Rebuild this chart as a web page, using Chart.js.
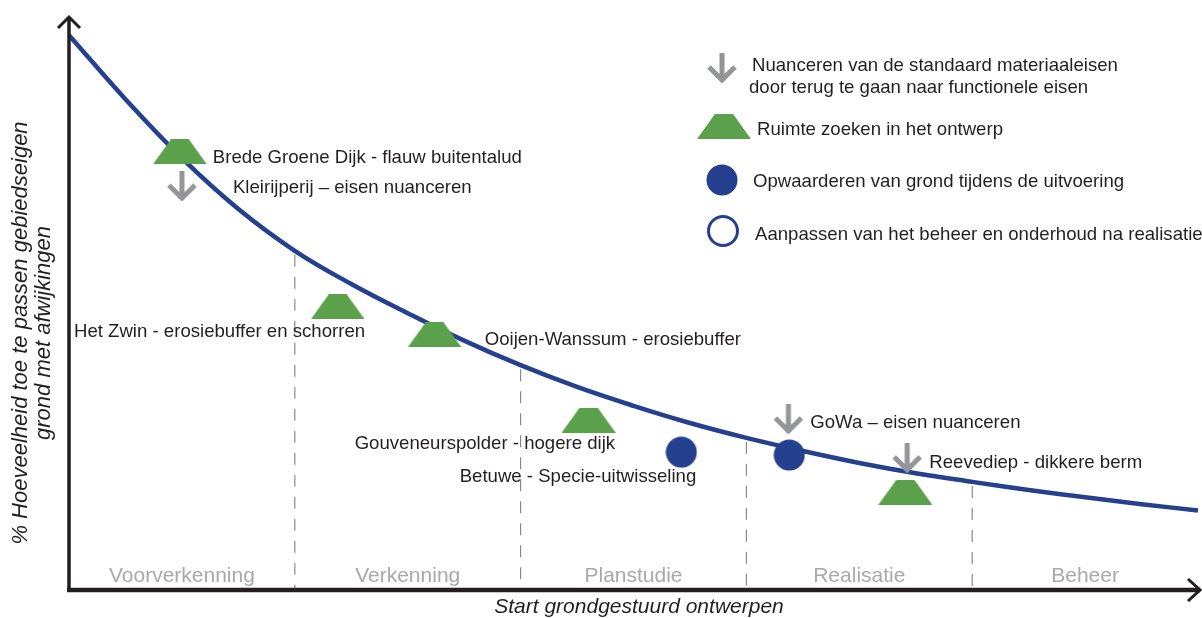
<!DOCTYPE html>
<html>
<head>
<meta charset="utf-8">
<script src="https://cdn.jsdelivr.net/npm/chart.js@4.4.1/dist/chart.umd.min.js"></script>
<style>
  html, body { margin: 0; padding: 0; background: #fff; overflow: hidden; }
  #wrap { width: 1202px; height: 618px; }
  canvas { display: block; }
</style>
</head>
<body>
<div id="wrap"><canvas id="grondChart" width="1202" height="618"></canvas></div>
<script>
// Curve: share of own soil that can be applied, over project phases (x = phase, 0..5)
const curveX = [0, 0.25, 0.5, 0.75, 1, 1.25, 1.5, 1.75, 2, 2.25, 2.5, 2.75, 3, 3.25, 3.5, 3.75, 4, 4.25, 4.5, 4.75, 5];
const curveY = [97, 85.8, 75.5, 66.6, 59.3, 53.5, 48.4, 43.6, 39.3, 35.5, 32.2, 29.2, 26.6, 24.3, 22.2, 20.4, 18.9, 17.5, 16.2, 15.0, 13.9];

// Phases along the x axis
const phaseNames = ["Voorverkenning", "Verkenning", "Planstudie", "Realisatie", "Beheer"];
const phaseBounds = [1, 2, 3, 4];

// Markers (data units)
const trapX = [0.491, 1.19, 1.619, 2.301, 3.704];
const trapY = [76.6, 49.5, 44.6, 29.7, 17.1];
const arrowX = [0.5, 3.186, 3.712];
const arrowY = [70.6, 29.9, 23.1];
const dotX = [2.712, 3.19];
const dotY = [24.1, 23.6];

// Project labels (left edge x, middle y in data units)
const labelTexts = [
  "Brede Groene Dijk - flauw buitentalud",
  "Kleirijperij \u2013 eisen nuanceren",
  "Het Zwin - erosiebuffer en schorren",
  "Ooijen-Wanssum - erosiebuffer",
  "Gouveneurspolder - hogere dijk",
  "Betuwe - Specie-uitwisseling",
  "GoWa \u2013 eisen nuanceren",
  "Reevediep - dikkere berm"
];
const labelX = [0.637, 0.726, 0.022, 1.841, 1.265, 1.73, 3.283, 3.81];
const labelY = [75.5, 70.3, 45.1, 43.7, 25.5, 19.8, 29.2, 22.2];

const legendTexts = [
  ["Nuanceren van de standaard materiaaleisen", "door terug te gaan naar functionele eisen"],
  ["Ruimte zoeken in het ontwerp"],
  ["Opwaarderen van grond tijdens de uitvoering"],
  ["Aanpassen van het beheer en onderhoud na realisatie"]
];

const BLUE = '#24408e';
const GREEN = '#5ba04b';
const GREY = '#939598';
const TEXT = '#231f20';
const FONT = '"Liberation Sans", Arial, sans-serif';

// marker images used as point styles
function makeTrap() {
  const c = document.createElement('canvas');
  c.width = 54; c.height = 25;
  const g = c.getContext('2d');
  g.fillStyle = GREEN;
  g.beginPath();
  g.moveTo(0, 25); g.lineTo(18, 0); g.lineTo(36, 0); g.lineTo(54, 25);
  g.closePath(); g.fill();
  return c;
}
function makeArrow() {
  const c = document.createElement('canvas');
  c.width = 32; c.height = 30;
  const g = c.getContext('2d');
  g.strokeStyle = GREY;
  g.lineWidth = 5;
  g.beginPath();
  g.moveTo(16, 0); g.lineTo(16, 26);
  g.moveTo(3, 14); g.lineTo(16, 27); g.lineTo(29, 14);
  g.stroke();
  return c;
}
function makeDot(filled) {
  const c = document.createElement('canvas');
  c.width = 32; c.height = 32;
  const g = c.getContext('2d');
  g.beginPath();
  if (filled) {
    g.fillStyle = BLUE;
    g.arc(16, 16, 15.5, 0, Math.PI * 2);
    g.fill();
  } else {
    g.strokeStyle = BLUE;
    g.lineWidth = 3;
    g.arc(16, 16, 14.5, 0, Math.PI * 2);
    g.stroke();
  }
  return c;
}
const trapImg = makeTrap();
const arrowImg = makeArrow();
const dotImg = makeDot(true);
const ringImg = makeDot(false);

const toPts = (xs, ys) => xs.map((x, i) => ({ x: x, y: ys[i] }));

const decorPlugin = {
  id: 'decor',
  beforeDatasetsDraw(chart) {
    const ctx = chart.ctx, xs = chart.scales.x, ys = chart.scales.y;
    ctx.save();
    // dashed phase separators, from the curve down to the axis
    ctx.strokeStyle = '#8a8a8a';
    ctx.lineWidth = 1.2;
    ctx.setLineDash([12, 10]);
    phaseBounds.forEach(b => {
      const idx = curveX.indexOf(b);
      const px = xs.getPixelForValue(b);
      ctx.beginPath();
      ctx.moveTo(px, ys.getPixelForValue(curveY[idx]) + 4);
      ctx.lineTo(px, ys.getPixelForValue(0));
      ctx.stroke();
    });
    ctx.setLineDash([]);
    // phase names
    ctx.fillStyle = '#a7a9ac';
    ctx.font = '21px ' + FONT;
    ctx.textAlign = 'center';
    ctx.textBaseline = 'alphabetic';
    phaseNames.forEach((n, i) => {
      ctx.fillText(n, xs.getPixelForValue(i + 0.5), ys.getPixelForValue(0) - 8);
    });
    ctx.restore();
  },
  afterDraw(chart) {
    const ctx = chart.ctx, xs = chart.scales.x, ys = chart.scales.y;
    const x0 = xs.getPixelForValue(0), y0 = ys.getPixelForValue(0);
    ctx.save();
    // axes with open arrow heads
    ctx.strokeStyle = TEXT;
    ctx.lineWidth = 3.5;
    ctx.beginPath();
    ctx.moveTo(x0, y0 + 2); ctx.lineTo(x0, 17);
    ctx.stroke();
    ctx.lineWidth = 4.5;
    ctx.beginPath();
    ctx.moveTo(x0 - 2, y0); ctx.lineTo(1200, y0);
    ctx.stroke();
    ctx.lineWidth = 3;
    ctx.beginPath();
    ctx.moveTo(x0 - 11, 28); ctx.lineTo(x0, 17); ctx.lineTo(x0 + 11, 28);
    ctx.moveTo(1188, y0 - 11); ctx.lineTo(1200, y0); ctx.lineTo(1188, y0 + 11);
    ctx.stroke();

    // project labels
    ctx.fillStyle = TEXT;
    ctx.font = '18.6px ' + FONT;
    ctx.textAlign = 'left';
    ctx.textBaseline = 'middle';
    labelTexts.forEach((t, i) => {
      ctx.fillText(t, xs.getPixelForValue(labelX[i]), ys.getPixelForValue(labelY[i]));
    });

    // axis titles
    ctx.font = 'italic 21px ' + FONT;
    ctx.textAlign = 'center';
    ctx.fillText('Start grondgestuurd ontwerpen', 639, 607);
    ctx.font = 'italic 22px ' + FONT;
    ctx.save();
    ctx.translate(21, 333);
    ctx.rotate(-Math.PI / 2);
    ctx.fillText('% Hoeveelheid toe te passen gebiedseigen', 0, 0);
    ctx.fillText('grond met afwijkingen', 0, 23);
    ctx.restore();

    // legend
    ctx.drawImage(arrowImg, 722 - 16, 68 - 15);
    ctx.drawImage(trapImg, 724 - 27, 126 - 12);
    ctx.drawImage(dotImg, 722 - 16, 180 - 16);
    ctx.drawImage(ringImg, 723 - 16, 231 - 16);
    ctx.fillStyle = TEXT;
    ctx.font = '18.6px ' + FONT;
    ctx.textAlign = 'left';
    const ly = [[66, 88], [130], [182], [235]];
    const lx = [[752, 749], [757], [753], [755]];
    legendTexts.forEach((lines, i) => {
      lines.forEach((t, j) => ctx.fillText(t, lx[i][j], ly[i][j]));
    });
    ctx.restore();
  }
};

new Chart(document.getElementById('grondChart').getContext('2d'), {
  type: 'scatter',
  data: {
    datasets: [
      {
        label: 'Opwaarderen van grond tijdens de uitvoering',
        data: toPts(dotX, dotY),
        pointStyle: dotImg,
        pointRadius: 1,
        borderWidth: 0
      },
      {
        label: 'Nuanceren van de standaard materiaaleisen',
        data: toPts(arrowX, arrowY),
        pointStyle: arrowImg,
        pointRadius: 1,
        borderWidth: 0
      },
      {
        label: 'Ruimte zoeken in het ontwerp',
        data: toPts(trapX, trapY),
        pointStyle: trapImg,
        pointRadius: 1,
        borderWidth: 0
      },
      {
        type: 'line',
        label: 'Curve',
        data: toPts(curveX, curveY),
        borderColor: BLUE,
        borderWidth: 4.5,
        pointRadius: 0,
        tension: 0.4,
        fill: false,
        clip: 10
      }
    ]
  },
  options: {
    responsive: false,
    animation: false,
    layout: { padding: { left: 69, right: 3, top: 18, bottom: 28 } },
    plugins: { legend: { display: false }, tooltip: { enabled: false } },
    scales: {
      x: { type: 'linear', min: 0, max: 5, display: false },
      y: { type: 'linear', min: 0, max: 100, display: false }
    }
  },
  plugins: [decorPlugin]
});
</script>
</body>
</html>
